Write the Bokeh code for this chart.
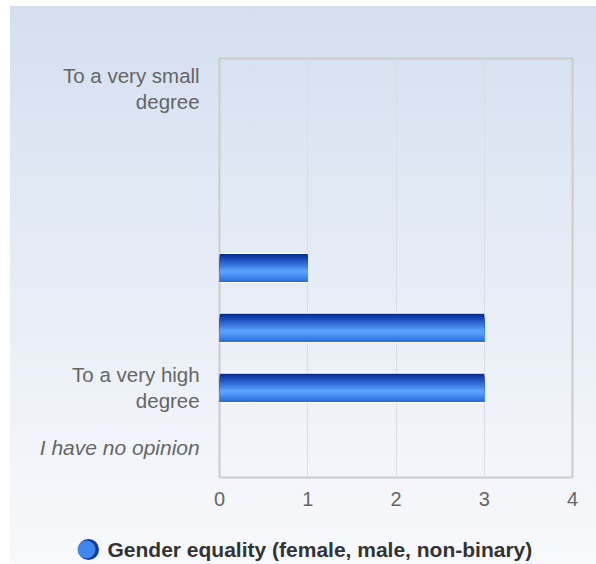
from bokeh.plotting import figure
from bokeh.models import Range1d, FixedTicker, ColumnDataSource
from bokeh.layouts import column, row
from bokeh.embed import file_html
from bokeh.resources import INLINE

categories = ["To a very small\ndegree", "", "", "", "", "To a very high\ndegree", "I have no opinion"]
values = [0, 0, 0, 1, 3, 3, 0]
x_ticks = [0, 1, 2, 3, 4]
series_name = "Gender equality (female, male, non-binary)"

FONT = "Liberation Sans"
TOP, BOTTOM = 58, 43
ys = list(range(len(categories)))
y_range = Range1d(len(categories) - 0.5, -0.5)

# ---- left label panel ----
L = figure(width=209, height=520, output_backend="svg", toolbar_location=None,
           x_range=Range1d(0, 1), y_range=y_range,
           min_border_left=0, min_border_right=0, min_border_top=TOP, min_border_bottom=BOTTOM)
L.axis.visible = False
L.grid.grid_line_color = None
L.outline_line_color = None
L.border_fill_color = None
L.background_fill_color = None
last = len(categories) - 1
lab_src = ColumnDataSource(dict(y=ys, text=categories,
                                style=["italic" if i == last else "normal" for i in ys],
                                size=["21px" if i == last else "20.5px" for i in ys]))
L.text(x=0.953, y="y", text="text", source=lab_src, text_align="right", text_baseline="middle",
       text_font={"value": FONT}, text_font_size="size", text_color="#666666",
       text_font_style="style", text_line_height=1.15)

# ---- main plot ----
p = figure(width=387, height=520, output_backend="svg", toolbar_location=None,
           x_range=Range1d(0, 4), y_range=y_range,
           min_border_left=10, min_border_right=24, min_border_top=TOP, min_border_bottom=BOTTOM)
p.border_fill_color = None
p.background_fill_color = None
p.outline_line_color = "#cccccc"
p.outline_line_width = 2

p.xaxis.ticker = FixedTicker(ticks=x_ticks)
p.xaxis.axis_line_color = None
p.xaxis.major_tick_line_color = None
p.xaxis.minor_tick_line_color = None
p.xaxis.major_label_text_font = FONT
p.xaxis.major_label_text_font_size = "20px"
p.xaxis.major_label_text_color = "#666666"
p.xaxis.major_label_standoff = 8
p.yaxis.visible = False
p.ygrid.grid_line_color = None
p.xgrid.ticker = FixedTicker(ticks=x_ticks)
p.xgrid.grid_line_color = "#dadde3"
p.xgrid.grid_line_width = 1

bar_h = 0.47
stops = [(0.0, (8, 40, 136)), (0.2, (28, 78, 188)), (0.62, (94, 164, 255)), (0.85, (62, 132, 236)), (1.0, (40, 104, 214))]

def col_at(t):
    for (t0, c0), (t1, c1) in zip(stops[:-1], stops[1:]):
        if t0 <= t <= t1:
            f = (t - t0) / (t1 - t0) if t1 > t0 else 0
            c = tuple(int(round(a + (b - a) * f)) for a, b in zip(c0, c1))
            return "#%02x%02x%02x" % c
    return "#%02x%02x%02x" % stops[-1][1]

# white rim, then layered strips: each one covers from its top edge to the bar's bottom
p.hbar(y=ys, right=values, left=0, height=bar_h + 0.035, fill_color="white", line_color=None)
N = 24
for k in range(N):
    top = -bar_h / 2 + k * bar_h / N
    hgt = bar_h / 2 - top
    cen = top + hgt / 2
    p.hbar(y=[y + cen for y in ys], right=values, left=0, height=hgt,
           fill_color=col_at((k + 0.5) / N), line_color=None)

# ---- legend panel ----
G = figure(width=596, height=44, output_backend="svg", toolbar_location=None,
           x_range=Range1d(0, 596), y_range=Range1d(44, 0),
           min_border_left=0, min_border_right=0, min_border_top=0, min_border_bottom=0)
G.axis.visible = False
G.grid.grid_line_color = None
G.outline_line_color = None
G.border_fill_color = None
G.background_fill_color = None
G.scatter(x=[88], y=[29], size=21, fill_color="#0f3a9e", line_color=None)
G.scatter(x=[86], y=[29], size=18, fill_color="#3f86ee", line_color=None)
G.text(x=[107], y=[29], text=[series_name], text_align="left", text_baseline="middle",
       text_font={"value": FONT}, text_font_size="21px", text_font_style="bold",
       text_color="#333333")

layout = column(row(L, p, spacing=0), G, spacing=0)
layout.styles = {"background": "linear-gradient(180deg, #d3dff0 0%, #e7edf6 50%, #f8f9fc 100%)",
                 "box-shadow": "inset 10px 6px 0 0 #ffffff"}

open("out.html", "w").write(file_html(layout, INLINE))
